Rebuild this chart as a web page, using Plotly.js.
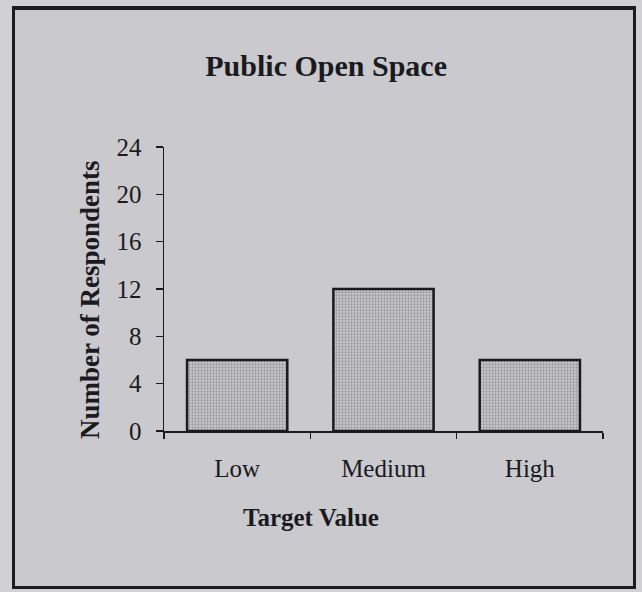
<!DOCTYPE html>
<html>
<head>
<meta charset="utf-8">
<script src="https://cdn.plot.ly/plotly-3.0.1.min.js"></script>
<style>
  html, body { margin: 0; padding: 0; background: #d1d1d3; }
  #wrap { position: relative; width: 642px; height: 592px; overflow: hidden; }
  #chart { position: absolute; left: 0; top: 0; width: 642px; height: 592px; }
  #frame { position: absolute; left: 12px; top: 6px; width: 624px; height: 583px;
           box-sizing: border-box; border: 3px solid #1c1c22; border-top-width: 4px; pointer-events: none; }
  #fill { position: absolute; left: 12px; top: 6px; width: 624px; height: 583px; background: #c9c9ce; }
</style>
</head>
<body>
<div id="wrap">
  <div id="fill"></div>
  <div id="chart"></div>
  <div id="frame"></div>
</div>
<script>
const chartTitle = "Public Open Space";
const categories = ["Low", "Medium", "High"];
const respondents = [6, 12, 6];
const yTitle = "Number of Respondents";
const xTitle = "Target Value";

const serif = "Liberation Serif, Times New Roman, serif";
const ink = "#1a1a1f";

const data = [{
  type: "bar",
  x: categories,
  y: respondents,
  marker: {
    color: "#c2c2c5",
    line: { color: ink, width: 2.5 },
    pattern: { shape: ".", fgcolor: "#9a9a9f", bgcolor: "#cbcbcd", size: 3, solidity: 0.45 }
  },
  hoverinfo: "none"
}];

const layout = {
  width: 642, height: 592,
  paper_bgcolor: "rgba(0,0,0,0)",
  plot_bgcolor: "rgba(0,0,0,0)",
  margin: { l: 164, r: 39, t: 147, b: 161 },
  showlegend: false,
  bargap: 0.315,
  title: {
    text: "<b>" + chartTitle + "</b>",
    font: { family: serif, size: 30, color: ink },
    xref: "container", x: 0.508, xanchor: "center",
    yref: "container", y: 1 - 65 / 592, yanchor: "middle"
  },
  xaxis: {
    type: "category",
    range: [-0.5, 2.5],
    showline: true, linecolor: ink, linewidth: 1.5,
    ticks: "outside", tickson: "boundaries", ticklen: 6, tickwidth: 1.5, tickcolor: ink,
    ticklabelstandoff: 14,
    tickfont: { family: serif, size: 25, color: ink },
    showgrid: false, zeroline: false, fixedrange: true
  },
  yaxis: {
    range: [0, 24],
    dtick: 4, tick0: 0,
    showline: true, linecolor: ink, linewidth: 1.5,
    ticks: "outside", ticklen: 7, tickwidth: 1.5, tickcolor: ink,
    ticklabelstandoff: 9,
    tickfont: { family: serif, size: 25, color: ink },
    showgrid: false, zeroline: false, fixedrange: true
  },
  xaxis2: {
    overlaying: "x", anchor: "y2", range: [-0.5, 2.5],
    tick0: -0.5, dtick: 1, ticks: "inside", ticklen: 3, tickwidth: 1.5, tickcolor: ink,
    showticklabels: false, showgrid: false, zeroline: false, showline: false, fixedrange: true
  },
  yaxis2: {
    overlaying: "y", anchor: "x2", range: [0, 24],
    tick0: 0, dtick: 4, ticks: "inside", ticklen: 7, tickwidth: 1.5, tickcolor: ink,
    showticklabels: false, showgrid: false, zeroline: false, showline: false, fixedrange: true
  },
  annotations: [
    {
      text: "<b>" + yTitle + "</b>", textangle: -90,
      xref: "paper", yref: "paper", x: (90 - 164) / 439, y: (431 - 300) / 284,
      xanchor: "center", yanchor: "middle", showarrow: false,
      font: { family: serif, size: 27, color: ink }
    },
    {
      text: "<b>" + xTitle + "</b>",
      xref: "paper", yref: "paper", x: (311 - 164) / 439, y: (431 - 517) / 284,
      xanchor: "center", yanchor: "middle", showarrow: false,
      font: { family: serif, size: 25, color: ink }
    }
  ]
};

Plotly.newPlot("chart", data, layout, { displayModeBar: false, staticPlot: true });
</script>
</body>
</html>
